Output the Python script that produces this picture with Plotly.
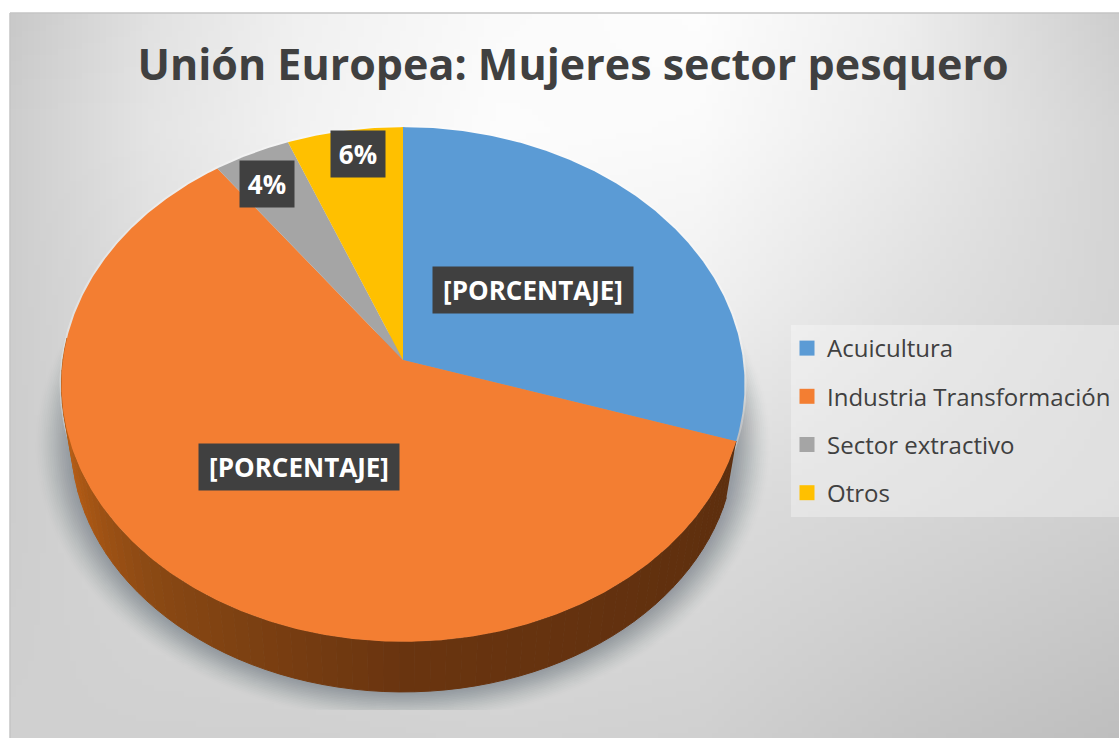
import numpy as np
import plotly.graph_objects as go

# ---- data ----
categories = ["Acuicultura", "Industria Transformación", "Sector extractivo", "Otros"]
shares = [30, 60, 4, 6]
slice_labels = ["[PORCENTAJE]", "[PORCENTAJE]", "4%", "6%"]
slice_colors = ["#5b9bd5", "#f37e32", "#a5a5a5", "#ffc000"]
title_text = "Unión Europea: Mujeres sector pesquero"

# ---- style / layout constants (pixels of the 1119x738 page) ----
W, H = 1119, 738
CX, CY = 403, 360          # apex of the pie on screen
RX, RY, PERSP = 340, 255, 0.095
LOW_RX, LOW_RY, LOW_CY = 330, 247, 419
TXT = "#404040"
FONT = "Open Sans"
label_boxes = [(533, 290, 200), (299, 467, 200), (267, 184, 54), (358, 154, 54)]

bg_x = [10, 150, 300, 500, 700, 900, 1119]
bg_y = [13, 130, 300, 500, 738]
bg_grey = [
    [200, 225, 240, 250, 253, 238, 205],
    [205, 228, 242, 252, 250, 235, 212],
    [205, 222, 235, 245, 240, 225, 212],
    [205, 215, 220, 225, 220, 215, 208],
    [208, 208, 208, 210, 208, 198, 190],
]
side_stops_deg = [100, 180, 225, 250, 275]
side_stops_rgb = [(92, 46, 14), (106, 53, 16), (140, 74, 20), (176, 90, 20), (192, 102, 30)]


def project(theta_deg, r=1.0, rx=RX, ry=RY, cy=CY):
    t = np.radians(theta_deg)
    u, v = r * np.sin(t), r * np.cos(t)
    d = 1 + PERSP * v
    return CX + rx * u / d, cy - ry * v / d


fig = go.Figure()

# background gradient
gx = np.arange(10, W + 6, 6)
gy = np.arange(13, H + 6, 6)
cx_mid = (gx[:-1] + gx[1:]) / 2
cy_mid = (gy[:-1] + gy[1:]) / 2
rows = np.array([np.interp(cx_mid, bg_x, r) for r in bg_grey])
z = np.array([np.interp(cy_mid, bg_y, rows[:, j]) for j in range(len(cx_mid))]).T
fig.add_trace(go.Heatmap(x=gx, y=gy, z=np.round(z).astype(int).tolist(),
                         colorscale=[[0, "#000000"], [1, "#ffffff"]], zmin=0, zmax=255,
                         showscale=False, hoverinfo="skip", showlegend=False))

# soft shadow under the pie: many faint layers, denser toward the rim
for n, e in enumerate(range(36, 0, -2)):
    th = np.linspace(70, 290, 120)
    sx, sy = project(th, 1.0, LOW_RX + e, LOW_RY + e * 0.75, LOW_CY)
    alpha = 0.008 + 0.006 * n
    fig.add_trace(go.Scatter(x=sx, y=np.minimum(sy, 710), mode="lines", fill="toself",
                             line=dict(width=0), fillcolor=f"rgba(125,132,140,{alpha:.3f})",
                             hoverinfo="skip", showlegend=False))

# pale halo round the top face
th = np.linspace(0, 360, 361)
hx, hy = project(th)
fig.add_trace(go.Scatter(x=hx, y=hy, mode="lines", line=dict(color="rgba(255,255,255,0.3)", width=4),
                         hoverinfo="skip", showlegend=False))

# side wall, derived from where the slices end
edges = np.cumsum([0] + list(shares)) / sum(shares) * 360
wall_start = edges[1]
wall_end = 275
wall_edges = np.linspace(wall_start, wall_end, 70)
for a, b in zip(wall_edges[:-1], wall_edges[1:]):
    th = np.linspace(a, b, 4)
    ox, oy = project(th)
    lx, ly = project(th[::-1], 1.0, LOW_RX, LOW_RY, LOW_CY)
    mid = (a + b) / 2
    rgb = [int(np.interp(mid, side_stops_deg, [c[i] for c in side_stops_rgb])) for i in range(3)]
    col = f"rgb({rgb[0]},{rgb[1]},{rgb[2]})"
    fig.add_trace(go.Scatter(x=np.r_[ox, lx], y=np.r_[oy, ly], mode="lines", fill="toself",
                             line=dict(color=col, width=1), fillcolor=col,
                             hoverinfo="skip", showlegend=False))

# top-face slices
for i, name in enumerate(categories):
    th = np.linspace(edges[i], edges[i + 1], max(int(edges[i + 1] - edges[i]) * 2, 12))
    ax, ay = project(th)
    fig.add_trace(go.Scatter(x=np.r_[CX, ax, CX], y=np.r_[CY, ay, CY], mode="lines", fill="toself",
                             line=dict(width=0), fillcolor=slice_colors[i], name=name,
                             text=f"{name}: {shares[i]}%", hoverinfo="text", showlegend=False))

# legend entries
for i, name in enumerate(categories):
    fig.add_trace(go.Scatter(x=[None], y=[None], mode="markers", name=name, legendgroup=name,
                             marker=dict(symbol="square", size=15, color=slice_colors[i])))

annotations = []
for text, (bx, by, bw) in zip(slice_labels, label_boxes):
    annotations.append(dict(x=bx, y=by, xref="x", yref="y", text=f"<b>{text}</b>", showarrow=False,
                            font=dict(family=FONT, size=26, color="#ffffff"),
                            bgcolor=TXT, width=bw, height=46, borderpad=0, align="center",
                            valign="middle"))

fig.update_layout(
    width=W, height=H, autosize=False,
    margin=dict(l=0, r=0, t=0, b=0),
    paper_bgcolor="#ffffff", plot_bgcolor="rgba(0,0,0,0)",
    xaxis=dict(range=[0, W], visible=False, fixedrange=True),
    yaxis=dict(range=[H, 0], visible=False, fixedrange=True),
    title=dict(text=f"<b>{title_text}</b>", x=573 / W, xanchor="center", xref="paper",
               y=1 - 65 / H, yanchor="middle", yref="paper",
               font=dict(family=FONT, size=43, color=TXT)),
    legend=dict(x=787 / W, xanchor="left", y=1 - 326 / H, yanchor="top", bgcolor="rgba(0,0,0,0)",
                font=dict(family=FONT, size=24, color=TXT), tracegroupgap=14,
                itemclick=False, itemdoubleclick=False),
    annotations=annotations,
    shapes=[
        dict(type="rect", xref="x", yref="y", x0=791, x1=W, y0=325, y1=517,
             fillcolor="rgba(255,255,255,0.32)", line=dict(width=0), layer="above"),
        dict(type="line", xref="x", yref="y", x0=10, x1=W, y0=13, y1=13, line=dict(color="#c4c4c4", width=1.5)),
        dict(type="line", xref="x", yref="y", x0=10, x1=10, y0=13, y1=H, line=dict(color="#c4c4c4", width=1.5)),
    ],
)

fig.write_html("out.html", config=dict(displayModeBar=False),
               post_script="document.body.style.margin='0';document.body.style.overflow='hidden';")
